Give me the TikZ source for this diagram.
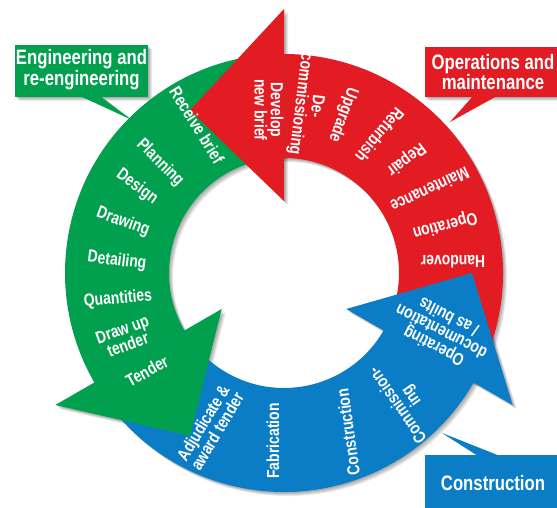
\documentclass[tikz,border=0pt]{standalone}
\usepackage{fontspec}
\newfontfamily\labfont[FakeStretch=0.8]{Liberation Sans}
\definecolor{cgreen}{HTML}{00A04E}
\definecolor{cred}{HTML}{E31B23}
\definecolor{cblue}{HTML}{0B7DC6}
\newcommand\ringbody[2]{(#1:219) arc[start angle=#1, end angle=#2, radius=219] -- (#2:115) arc[start angle=#2, end angle=#1, radius=115] -- cycle}
\newcommand\ringhead[1]{(#1:264) -- ({#1+30}:188) -- (#1:72) -- cycle}
\tikzset{
  lab/.style={text=white, font=\labfont\bfseries\fontsize{17.5}{16.5}\selectfont, align=center, inner sep=0pt},
  call/.style={text=white, font=\labfont\bfseries\fontsize{21}{21}\selectfont, align=center, inner sep=0pt},
  shadowfill/.style={fill=black, opacity=0.09}
}
\begin{document}
\begin{tikzpicture}[x=1bp,y=1bp]
\useasboundingbox (-284,-235) rectangle (273,273);
\fill[white] (-284,-235) rectangle (273,273);
% shadows
\foreach \s in {1,2,3,4}{
  \fill[shadowfill, shift={(\s,-\s)}] \ringbody{-30}{90};
  \fill[shadowfill, shift={(\s,-\s)}] \ringbody{90}{210};
  \fill[shadowfill, shift={(\s,-\s)}] \ringbody{210}{330};
  \fill[shadowfill, shift={(\s,-\s)}] \ringhead{90};
  \fill[shadowfill, shift={(\s,-\s)}] \ringhead{210};
  \fill[shadowfill, shift={(\s,-\s)}] \ringhead{330};
  \fill[shadowfill, shift={(\s,-\s)}] (-269,228) rectangle (-136,176);
  \fill[shadowfill, shift={(\s,-\s)}] (141,226) rectangle (273,176);
  \fill[shadowfill, shift={(\s,-\s)}] (141,-182) rectangle (273,-240);
}
% ring bodies
\fill[cred] \ringbody{-30}{90};
\fill[cgreen] \ringbody{90}{210};
\fill[cblue] \ringbody{210}{330};
% arrow heads
\fill[cred] \ringhead{90};
\fill[cgreen] \ringhead{210};
\fill[cblue] \ringhead{330};
% callouts
\fill[cgreen] (-269,228) rectangle (-136,176);
\fill[cgreen] (-204,177) -- (-152,153) -- (-184,177) -- cycle;
\node[call] (eng) at (-202.5,203) {Engineering and\\re-engineering};
\fill[cred] (141,226) rectangle (273,176);
\fill[cred] (189,177) -- (166,151) -- (213,177) -- cycle;
\node[call] (ops) at (209,201) {Operations and\\maintenance};
\fill[cblue] (141,-182) rectangle (273,-240);
\fill[cblue] (194,-183) -- (158,-160) -- (216,-183) -- cycle;
\node[call] (con) at (209,-210) {Construction};
% green labels
\node[lab, rotate=-58] (g1) at (-87,148) {Receive brief};
\node[lab, rotate=-45] (g2) at (-124,110) {Planning};
\node[lab, rotate=-36] (g3) at (-147,86) {Design};
\node[lab, rotate=-20] (g4) at (-161,51) {Drawing};
\node[lab, rotate=-7] (g5) at (-167,12) {Detailing};
\node[lab, rotate=5] (g6) at (-166,-26) {Quantities};
\node[lab, rotate=20] (g7) at (-159,-64) {Draw up\\tender};
\node[lab, rotate=29] (g8) at (-137,-98) {Tender};
% red labels
\node[lab, rotate=-90] (r1) at (-15,163) {Develop\\new brief};
\node[lab, rotate=-97] (r2) at (24,168) {De-\\commissioning};
\node[lab, rotate=-110] (r3) at (59,158) {Upgrade};
\node[lab, rotate=-130] (r4) at (96,138) {Refurbish};
\node[lab, rotate=-143] (r5) at (122,114) {Repair};
\node[lab, rotate=-155] (r6) at (146,83) {Maintenance};
\node[lab, rotate=-165] (r7) at (161,48) {Operation};
\node[lab, rotate=180] (r8) at (169,11) {Handover};
% blue labels
\node[lab, rotate=59] (b1) at (-74,-154) {Adjudicate \&\\award tender};
\node[lab, rotate=90] (b2) at (-11,-168) {Fabrication};
\node[lab, rotate=98] (b3) at (64,-159) {Construction};
\node[lab, rotate=125] (b4) at (121,-127) {Commission-\\ing};
\node[lab, rotate=153] (b5) at (157,-59) {Operating\\documentation\\/ as builts};
\end{tikzpicture}
\end{document}
